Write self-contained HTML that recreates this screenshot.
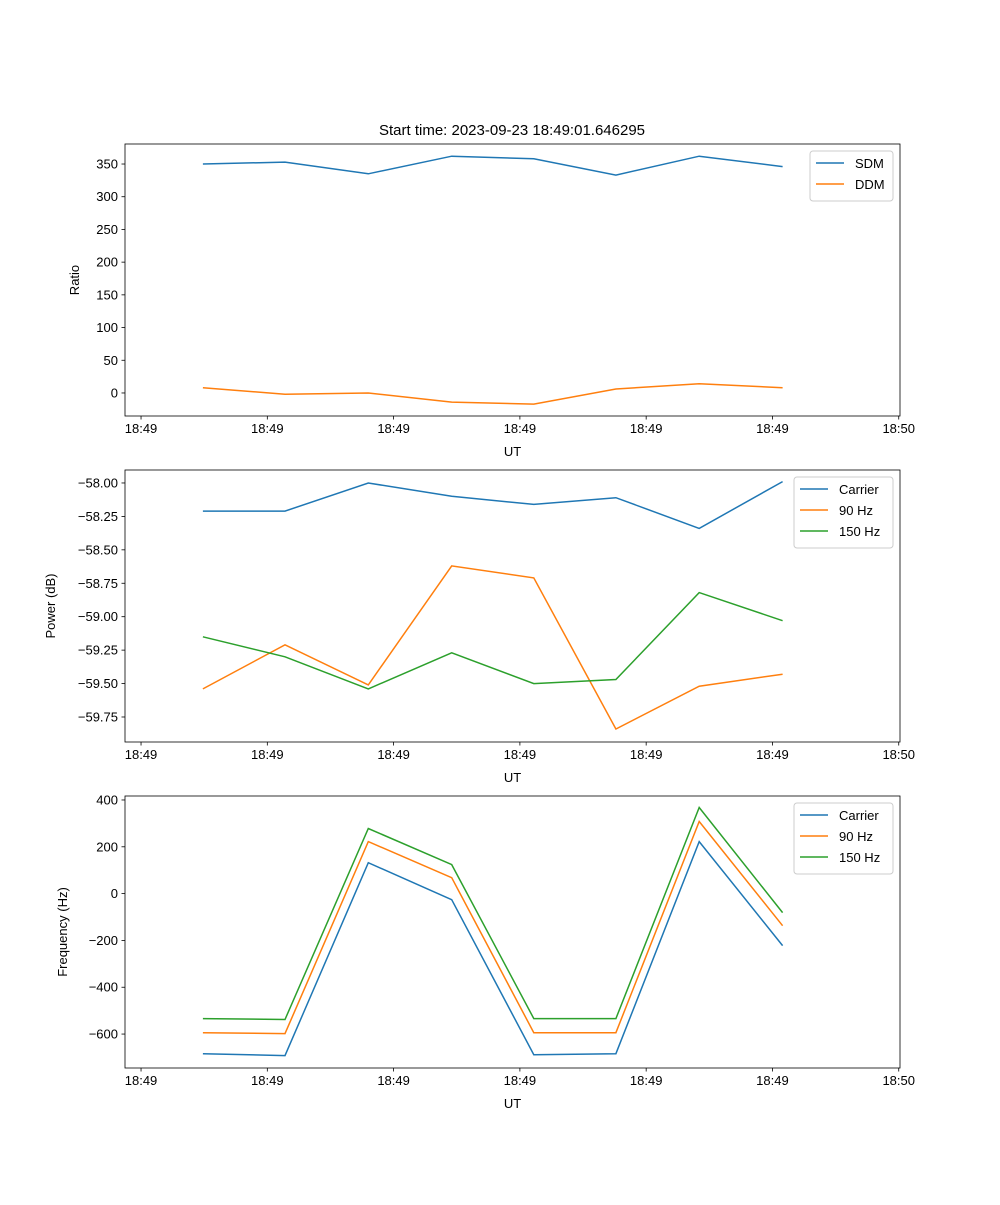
<!DOCTYPE html>
<html><head><meta charset="utf-8"><style>
body{margin:0;background:#fff;}
svg text{font-family:"Liberation Sans","DejaVu Sans",sans-serif;font-size:13px;fill:#000;}
</style></head><body>
<svg id="fig" width="1000" height="1200" xmlns="http://www.w3.org/2000/svg">
<rect width="1000" height="1200" fill="#fff"/>
<text x="512" y="135" text-anchor="middle" style="font-size:15px">Start time: 2023-09-23 18:49:01.646295</text>
</svg>
<script>
const times = [4.9, 11.4, 18.0, 24.6, 31.1, 37.6, 44.2, 50.8];
const xTicks = [0, 10, 20, 30, 40, 50, 60];
const xTickLabels = ["18:49","18:49","18:49","18:49","18:49","18:49","18:50"];
const sdm = [350, 353, 335, 362, 358, 333, 362, 346];
const ddm = [8, -2, 0, -14, -17, 6, 14, 8];
const powCarrier = [-58.21, -58.21, -58.00, -58.10, -58.16, -58.11, -58.34, -57.99];
const pow90 = [-59.54, -59.21, -59.51, -58.62, -58.71, -59.84, -59.52, -59.43];
const pow150 = [-59.15, -59.30, -59.54, -59.27, -59.50, -59.47, -58.82, -59.03];
const freqCarrier = [-684, -692, 132, -26, -688, -684, 222, -222];
const freq90 = [-594, -598, 222, 68, -594, -594, 308, -137];
const freq150 = [-534, -538, 278, 124, -534, -534, 368, -81];
const ratioTicks = [0, 50, 100, 150, 200, 250, 300, 350];
const powTicks = [-59.75, -59.5, -59.25, -59.0, -58.75, -58.5, -58.25, -58.0];
const freqTicks = [-600, -400, -200, 0, 200, 400];

const NS = "http://www.w3.org/2000/svg";
const svg = document.getElementById('fig');
const C = ['#1f77b4', '#ff7f0e', '#2ca02c'];
function mk(tag, attrs, parent) {
  const e = document.createElementNS(NS, tag);
  for (const k in attrs) e.setAttribute(k, attrs[k]);
  (parent || svg).appendChild(e);
  return e;
}
const L = 125, R = 900;
const xmin = -1.27, xmax = 60.1;
const xs = t => L + (t - xmin) / (xmax - xmin) * (R - L);

function panel(name, top, bottom, ymin, ymax, yTicks, fmt, ylabel, ylabelX, series, names, legW) {
  const g = mk('g', {});
  
  
  const ys = v => bottom - (v - ymin) / (ymax - ymin) * (bottom - top);
  series.forEach((s, i) => {
    const pts = s.map((v, j) => xs(times[j]).toFixed(1) + ',' + ys(v).toFixed(1)).join(' ');
    const pl = mk('polyline', {points: pts, fill: 'none', stroke: C[i], 'stroke-width': 1.5}, g);
    
    
  });
  const frame = mk('rect', {x: L, y: top, width: R - L, height: bottom - top, fill: 'none', stroke: '#000', 'stroke-width': 0.8}, g);
  
  
  xTicks.forEach((t, i) => {
    const x = xs(t);
    mk('line', {x1: x, x2: x, y1: bottom, y2: bottom + 3.5, stroke: '#000', 'stroke-width': 0.8}, g);
    const tx = mk('text', {x: x, y: bottom + 17, 'text-anchor': 'middle'}, g);
    tx.textContent = xTickLabels[i];
    
    
  });
  yTicks.forEach(v => {
    const y = ys(v);
    mk('line', {x1: L - 3.5, x2: L, y1: y, y2: y, stroke: '#000', 'stroke-width': 0.8}, g);
    const tx = mk('text', {x: L - 7, y: y + 4.5, 'text-anchor': 'end'}, g);
    tx.textContent = fmt(v);
    
    
  });
  const xl = mk('text', {x: (L + R) / 2, y: bottom + 40, 'text-anchor': 'middle'}, g);
  xl.textContent = 'UT';
  
  
  const cy = (top + bottom) / 2;
  const yl = mk('text', {x: ylabelX, y: cy, 'text-anchor': 'middle', transform: 'rotate(-90 ' + ylabelX + ' ' + cy + ')'}, g);
  yl.textContent = ylabel;
  
  
  const lh = 8 + names.length * 21;
  const lx = R - 7 - legW, ly = top + 7;
  const lg = mk('g', {}, g);
  
  
  mk('rect', {x: lx, y: ly, width: legW, height: lh, rx: 3, fill: '#fff', 'fill-opacity': 0.8, stroke: '#ccc'}, lg);
  names.forEach((n, i) => {
    const yy = ly + 12 + i * 21;
    mk('line', {x1: lx + 6, x2: lx + 34, y1: yy, y2: yy, stroke: C[i], 'stroke-width': 1.5}, lg);
    const t = mk('text', {x: lx + 45, y: yy + 5}, lg);
    t.textContent = n;
    
    
  });
}

panel('ratio', 144, 416, -35.2, 380.6, ratioTicks, v => String(v), 'Ratio', 79, [sdm, ddm], ['SDM', 'DDM'], 83);
panel('power', 470, 742, -59.937, -57.903, powTicks, v => '\u2212' + Math.abs(v).toFixed(2), 'Power (dB)', 55, [powCarrier, pow90, pow150], ['Carrier', '90 Hz', '150 Hz'], 99);
panel('frequency', 796, 1068, -745, 417, freqTicks, v => v < 0 ? '\u2212' + Math.abs(v) : String(v), 'Frequency (Hz)', 67, [freqCarrier, freq90, freq150], ['Carrier', '90 Hz', '150 Hz'], 99);
</script>
</body></html>
